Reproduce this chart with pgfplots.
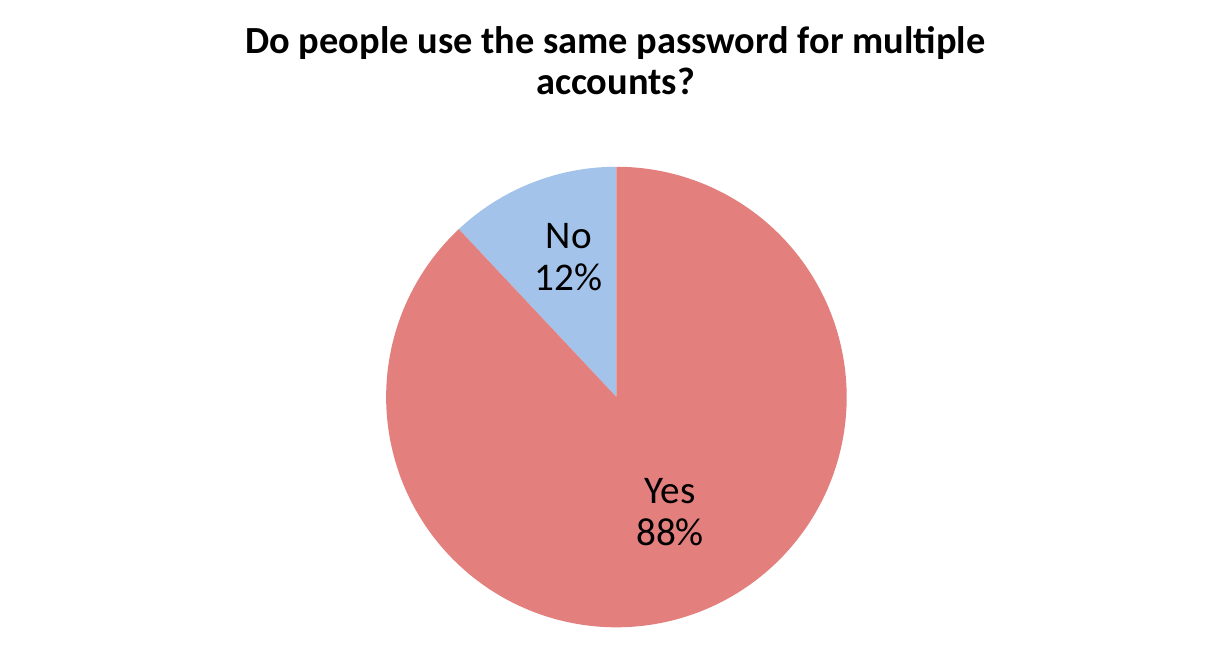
\documentclass[border=0pt]{standalone}
\usepackage{pgfplots}
\pgfplotsset{compat=1.18}
\usepackage{pgfplotstable}
\usepackage{fontspec}
\setmainfont{Carlito}
\definecolor{yescol}{HTML}{E3807E}
\definecolor{nocol}{HTML}{A3C3EA}
\pgfplotstableread{
label value
Yes 88
No 12
}\piedata
\begin{document}
\pgfplotstablegetelem{0}{value}\of\piedata \let\yesval\pgfplotsretval
\pgfplotstablegetelem{1}{value}\of\piedata \let\noval\pgfplotsretval
\pgfmathsetmacro{\noend}{90+3.6*\noval}
\pgfmathsetmacro{\yesend}{\noend+3.6*\yesval}
\begin{tikzpicture}
\begin{axis}[
  width=604bp, height=333bp, scale only axis,
  xmin=0, xmax=1208, ymin=0, ymax=666,
  hide axis, clip=false,
]
\path[use as bounding box] (axis cs:0,0) rectangle (axis cs:1208,666);
% No slice
\addplot[fill=nocol, draw=none, domain=90:\noend, samples=120, variable=\t]
  ({612+232*cos(\t)}, {266+232*sin(\t)}) -- (axis cs:612,266) -- cycle;
% Yes slice
\addplot[fill=yescol, draw=none, domain=\noend:\yesend, samples=300, variable=\t]
  ({612+232*cos(\t)}, {266+232*sin(\t)}) -- (axis cs:612,266) -- cycle;
\node[align=center, font=\fontsize{19.8}{21.5}\selectfont] at (axis cs:564,407) {No\\\noval\%};
\node[align=center, font=\fontsize{19.8}{21.5}\selectfont] at (axis cs:666,150) {Yes\\\yesval\%};
\node[align=center, font=\bfseries\fontsize{19.4}{21}\selectfont] at (axis cs:611,605) {Do people use the same password for multiple\\accounts?};
\end{axis}
\end{tikzpicture}
\end{document}
